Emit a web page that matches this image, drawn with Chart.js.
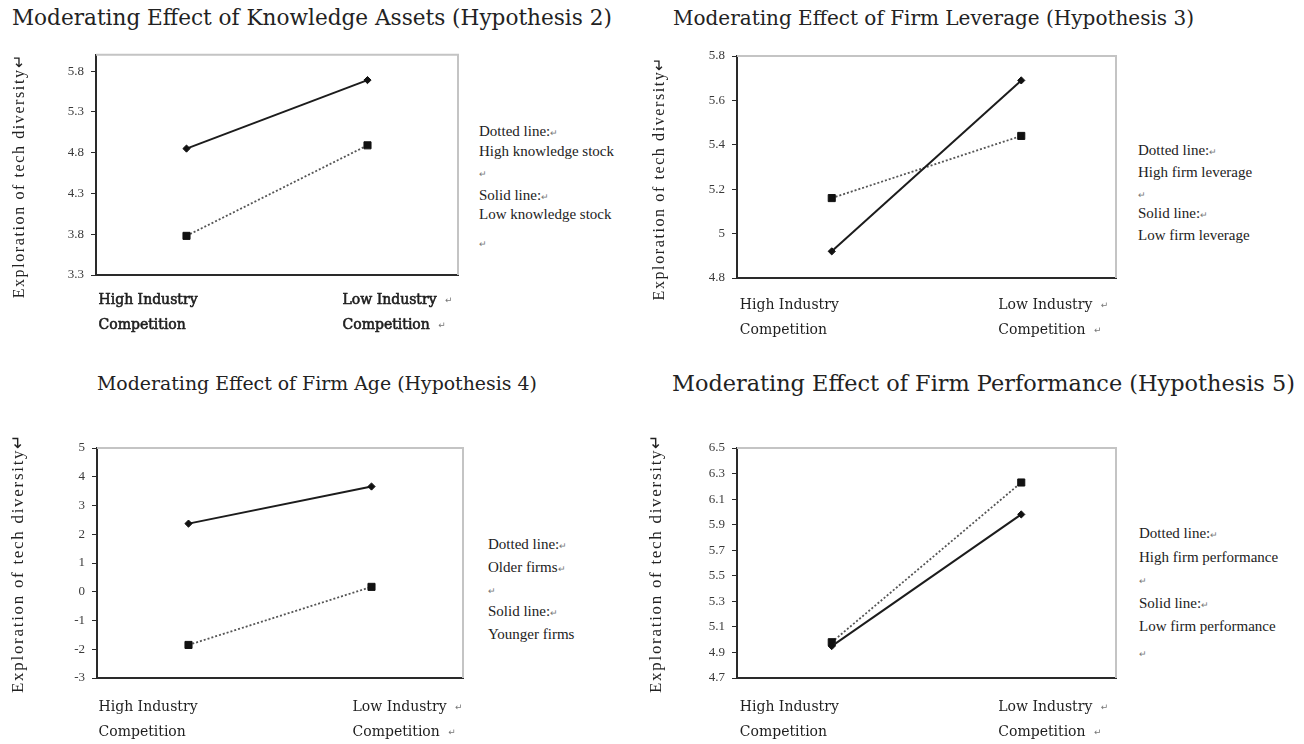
<!DOCTYPE html>
<html><head><meta charset="utf-8">
<script src="https://cdn.jsdelivr.net/npm/chart.js@4.4.0/dist/chart.umd.min.js"></script>
<style>
html,body{margin:0;padding:0;background:#fff;}
body{width:1304px;height:744px;position:relative;overflow:hidden;}
.title{position:absolute;font-family:'DejaVu Serif',serif;color:#222;white-space:nowrap;line-height:22px;}
.legend{position:absolute;font-family:'Liberation Serif','Times New Roman',serif;font-size:15px;color:#222;white-space:nowrap;}
.legend div{position:absolute;left:0;white-space:nowrap;line-height:16px;}
.mark{font-size:9px;color:#777;}
canvas{position:absolute;}
</style></head><body>
<script>
// ---------- data ----------
const categories = ['High Industry Competition', 'Low Industry Competition'];
const xLabelLines = [['High Industry', 'Competition'], ['Low Industry ↵', 'Competition ↵']];
const yAxisTitle = 'Exploration of tech diversity↵';

const titles = [
  'Moderating Effect of Knowledge Assets (Hypothesis 2)',
  'Moderating Effect of Firm Leverage (Hypothesis 3)',
  'Moderating Effect of Firm Age (Hypothesis 4)',
  'Moderating Effect of Firm Performance (Hypothesis 5)'
];

// Hypothesis 2
const h2Ticks = [3.3, 3.8, 4.3, 4.8, 5.3, 5.8];
const h2Solid = [4.85, 5.69];   // Low knowledge stock
const h2Dotted = [3.78, 4.89];  // High knowledge stock
const h2Legend = ['Dotted line:↵', 'High knowledge stock', '↵', 'Solid line:↵', 'Low knowledge stock', '↵'];

// Hypothesis 3
const h3Ticks = [4.8, 5, 5.2, 5.4, 5.6, 5.8];
const h3Solid = [4.92, 5.69];   // Low firm leverage
const h3Dotted = [5.16, 5.44];  // High firm leverage
const h3Legend = ['Dotted line:↵', 'High firm leverage', '↵', 'Solid line:↵', 'Low firm leverage'];

// Hypothesis 4
const h4Ticks = [-3, -2, -1, 0, 1, 2, 3, 4, 5];
const h4Solid = [2.37, 3.66];   // Younger firms
const h4Dotted = [-1.85, 0.17]; // Older firms
const h4Legend = ['Dotted line:↵', 'Older firms↵', '↵', 'Solid line:↵', 'Younger firms'];

// Hypothesis 5
const h5Ticks = [4.7, 4.9, 5.1, 5.3, 5.5, 5.7, 5.9, 6.1, 6.3, 6.5];
const h5Solid = [4.95, 5.98];   // Low firm performance
const h5Dotted = [4.98, 6.23];  // High firm performance
const h5Legend = ['Dotted line:↵', 'High firm performance', '↵', 'Solid line:↵', 'Low firm performance', '↵'];

// ---------- layout / style ----------
const panels = [
  {left: 0,   top: 40,  w: 480, h: 320, area: {l: 96, t: 13, r: 458, b: 235}, min: 3.3, max: 6.0,
   ticks: h2Ticks, solid: h2Solid, dotted: h2Dotted, legend: h2Legend, title: titles[0],
   titlePos: [12, 7], titleSize: 21.6, legendPos: [479, 123], legendYs: [0, 20, 41, 64, 83, 111],
   xOff: [-88, -25], xDy: 25, xBold: true, yFont: 16, ySpace: 1.6, yPad: 10, yTitle: yAxisTitle + '    '},
  {left: 640, top: 40,  w: 500, h: 320, area: {l: 97, t: 16, r: 476, b: 238}, min: 4.8, max: 5.8,
   ticks: h3Ticks, solid: h3Solid, dotted: h3Dotted, legend: h3Legend, title: titles[1],
   titlePos: [673, 7], titleSize: 20, legendPos: [1138, 142], legendYs: [0, 22, 43, 63, 85],
   xOff: [-92, -23], xDy: 27, xBold: false, yFont: 16, ySpace: 1.6, yPad: 10, yTitle: yAxisTitle + '    '},
  {left: 0,   top: 430, w: 480, h: 314, area: {l: 97, t: 18, r: 463, b: 248}, min: -3, max: 5,
   ticks: h4Ticks, solid: h4Solid, dotted: h4Dotted, legend: h4Legend, title: titles[2],
   titlePos: [97, 372], titleSize: 18.9, legendPos: [488, 536], legendYs: [0, 23, 45, 67, 90],
   xOff: [-90, -19], xDy: 29, xBold: false, yFont: 17, ySpace: 1.7, yPad: 8, yTitle: yAxisTitle},
  {left: 640, top: 430, w: 500, h: 314, area: {l: 97, t: 18, r: 476, b: 248}, min: 4.7, max: 6.5,
   ticks: h5Ticks, solid: h5Solid, dotted: h5Dotted, legend: h5Legend, title: titles[3],
   titlePos: [672, 372], titleSize: 22.4, legendPos: [1139, 525], legendYs: [0, 24, 46, 70, 93, 119],
   xOff: [-92, -23], xDy: 29, xBold: false, yFont: 17, ySpace: 1.7, yPad: 6, yTitle: yAxisTitle}
];

const framePlugin = {
  id: 'frame',
  beforeDatasetsDraw(chart) {
    const {ctx, chartArea: a} = chart;
    ctx.save();
    ctx.strokeStyle = '#c4c4c4';
    ctx.lineWidth = 2;
    ctx.beginPath();
    ctx.moveTo(a.left, a.top); ctx.lineTo(a.right, a.top); ctx.lineTo(a.right, a.bottom);
    ctx.stroke();
    ctx.restore();
  },
  afterDraw(chart, args, opts) {
    const {ctx, chartArea: a} = chart;
    const xs = chart.scales.x;
    ctx.save();
    ctx.textAlign = 'left';
    ctx.textBaseline = 'middle';
    xLabelLines.forEach((lines, i) => {
      const px = xs.getPixelForValue(i) + opts.xOff[i];
      lines.forEach((t, j) => {
        const y = a.bottom + opts.xDy + j * 25;
        const main = t.replace('↵', '').trimEnd();
        ctx.font = '14px "DejaVu Serif", serif';
        ctx.fillStyle = '#1e1e1e';
        ctx.fillText(main, px, y);
        if (opts.xBold) {
          ctx.strokeStyle = '#1e1e1e';
          ctx.lineWidth = 0.6;
          ctx.strokeText(main, px, y);
        }
        if (t.includes('↵')) {
          const w = ctx.measureText(t.replace('↵', '')).width;
          ctx.font = '9px "DejaVu Sans", sans-serif';
          ctx.fillStyle = '#777';
          ctx.fillText('↵', px + w + 4, y + 1);
        }
      });
    });
    ctx.restore();
  }
};

function esc(s) { return s.replace(/&/g, '&amp;').replace(/</g, '&lt;'); }

panels.forEach((p) => {
  // title
  const t = document.createElement('div');
  t.className = 'title';
  t.style.left = p.titlePos[0] + 'px';
  t.style.top = p.titlePos[1] + 'px';
  t.style.fontSize = p.titleSize + 'px';
  t.textContent = p.title;
  document.body.appendChild(t);
  // legend text
  const lg = document.createElement('div');
  lg.className = 'legend';
  lg.style.left = p.legendPos[0] + 'px';
  lg.style.top = p.legendPos[1] + 'px';
  p.legend.forEach((line, i) => {
    const d = document.createElement('div');
    d.style.top = p.legendYs[i] + 'px';
    d.innerHTML = esc(line).replace('↵', '<span class="mark">↵</span>');
    lg.appendChild(d);
  });
  document.body.appendChild(lg);
  // canvas
  const c = document.createElement('canvas');
  c.width = p.w; c.height = p.h;
  c.style.left = p.left + 'px'; c.style.top = p.top + 'px';
  document.body.appendChild(c);

  new Chart(c, {
    type: 'line',
    data: {
      labels: categories,
      datasets: [
        {label: 'Solid line', data: p.solid, borderColor: '#1c1c1c', borderWidth: 2,
         pointStyle: 'rectRot', pointRadius: 3.6, pointBackgroundColor: '#111', pointBorderColor: '#111',
         pointBorderWidth: 1, tension: 0},
        {label: 'Dotted line', data: p.dotted, borderColor: '#555', borderWidth: 1.8, borderDash: [2, 2],
         pointStyle: 'rect', pointRadius: 5, pointBackgroundColor: '#111', pointBorderColor: '#111',
         pointBorderWidth: 1, tension: 0}
      ]
    },
    options: {
      responsive: false,
      animation: false,
      events: [],
      layout: {padding: {top: p.area.t, right: p.w - p.area.r, left: 0, bottom: 0}},
      plugins: {
        legend: {display: false},
        tooltip: {enabled: false},
        frame: {xOff: p.xOff, xDy: p.xDy, xBold: p.xBold}
      },
      scales: {
        x: {
          type: 'category', offset: true,
          grid: {display: false},
          border: {display: true, color: '#2a2a2a', width: 2},
          ticks: {display: false},
          afterFit(s) { s.height = p.h - p.area.b; }
        },
        y: {
          min: p.min, max: p.max,
          afterBuildTicks(s) { s.ticks = p.ticks.map(v => ({value: v})); },
          grid: {display: true, drawOnChartArea: false, drawTicks: true, tickLength: 5, color: '#2a2a2a', lineWidth: 1},
          border: {display: true, color: '#2a2a2a', width: 2},
          ticks: {color: '#3a3a3a', padding: 7, font: {family: '"Liberation Serif", serif', size: 13},
                  callback: v => String(v)},
          title: {display: true, text: p.yTitle, color: '#222',
                  font: {family: '"Liberation Serif", serif', size: p.yFont}, padding: {top: p.yPad, bottom: 0}},
          afterFit(s) {
            s.width = p.area.l;
            if (!s._spacedTitle) {
              s._spacedTitle = true;
              const orig = s.drawTitle;
              s.drawTitle = function () {
                const ctx = this.ctx;
                const prev = ctx.letterSpacing;
                ctx.letterSpacing = p.ySpace + 'px';
                orig.call(this);
                ctx.letterSpacing = prev || '0px';
              };
            }
          }
        }
      }
    },
    plugins: [framePlugin]
  });
});
</script>
</body></html>
